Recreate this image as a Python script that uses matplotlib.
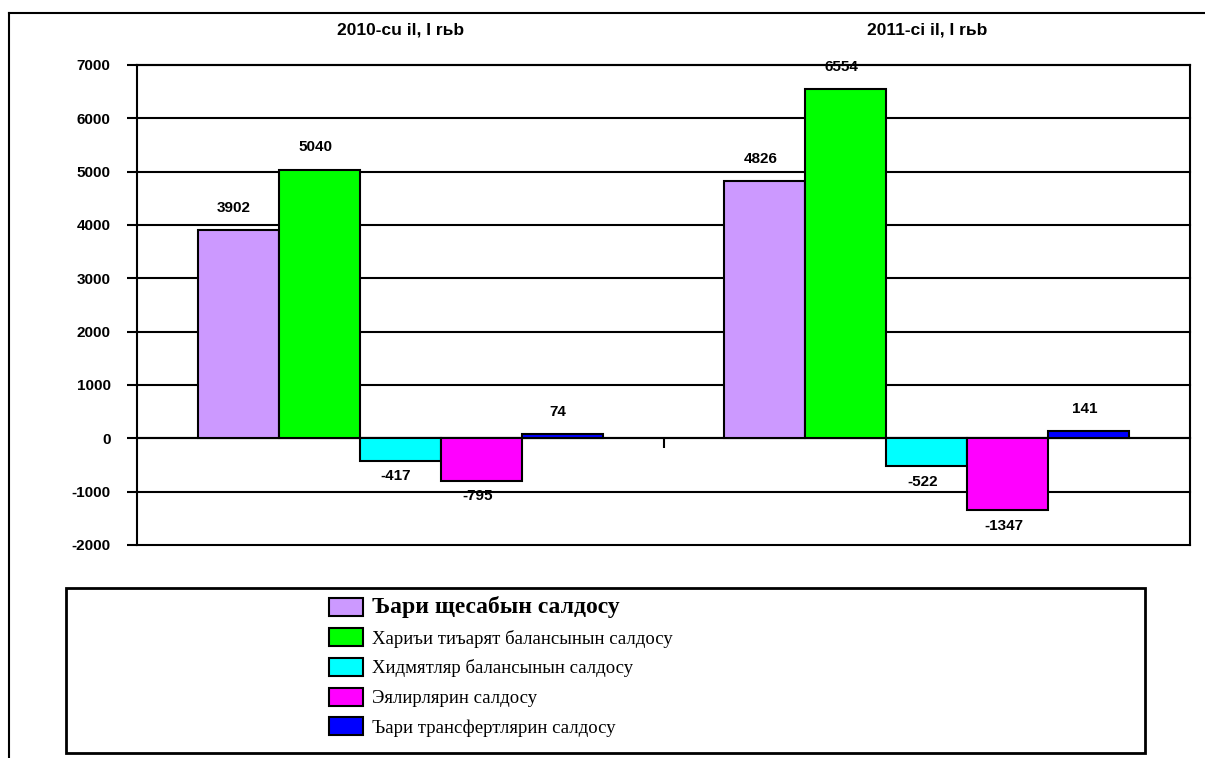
import matplotlib
matplotlib.use("Agg")
import matplotlib.pyplot as plt
import numpy as np
from matplotlib.patches import Rectangle
from matplotlib.lines import Line2D

categories = ["2010-cu il, I rьb", "2011-ci il, I rьb"]
series_names = [
    "Ъари щесабын салдосу",
    "Хариъи тиъарят балансынын салдосу",
    "Хидмятляр балансынын салдосу",
    "Эялирлярин салдосу",
    "Ъари трансфертлярин салдосу",
]
cari = [3902, 4826]
ticaret = [5040, 6554]
xidmet = [-417, -522]
gelir = [-795, -1347]
transfer = [74, 141]
values = [cari, ticaret, xidmet, gelir, transfer]
colors = ["#CC99FF", "#00FF00", "#00FFFF", "#FF00FF", "#0000FF"]
yticks = [-2000, -1000, 0, 1000, 2000, 3000, 4000, 5000, 6000, 7000]

fig = plt.figure(figsize=(12.05, 7.58), dpi=100)
ax = fig.add_axes([137/1205, 1-545/758, (1190-137)/1205, (545-65)/758])

ax.spines["bottom"].set_position(("data", 0))
ax.spines["bottom"].set_linewidth(1.5)
for s in ["left", "right", "top"]:
    ax.spines[s].set_linewidth(1.5)

x = np.arange(len(categories))
bw = 0.154
handles = []
for i, (vals, col) in enumerate(zip(values, colors)):
    pos = x + (i - 2) * bw
    b = ax.bar(pos, vals, width=bw, color=col, edgecolor="black", linewidth=1.5, zorder=3)
    handles.append(b)
    for p, v in zip(pos, vals):
        if v >= 0:
            ax.annotate(f"{v}", (p, v), xytext=(-3, 11), textcoords="offset points",
                        ha="center", va="bottom", fontsize=11, fontweight="bold",
                        family="Liberation Sans", annotation_clip=False)
        else:
            ax.annotate(f"{v}", (p, v), xytext=(-3, -6), textcoords="offset points",
                        ha="center", va="top", fontsize=11, fontweight="bold",
                        family="Liberation Sans")

ax.set_xlim(-0.5, 1.5)
ax.set_ylim(-2000, 7000)
ax.set_yticks(yticks)
ax.set_yticklabels([str(t) for t in yticks], fontsize=11, fontweight="bold", family="Liberation Sans")
ax.yaxis.grid(True, color="black", linewidth=1.5, zorder=0)
for gl in ax.get_ygridlines():
    gl.set_clip_on(False)
ax.set_axisbelow(True)

ax.set_xticks(x)
ax.set_xticks([0.5], minor=True)
ax.tick_params(axis="x", which="major", bottom=False, top=False, labelbottom=False,
               labeltop=True, pad=16)
ax.set_xticklabels(categories, fontsize=12.5, fontweight="bold", family="Liberation Sans")
ax.tick_params(axis="x", which="minor", bottom=True, top=False, length=7, width=1.5,
               direction="out")
ax.tick_params(axis="y", which="major", length=7, width=1.5, pad=12)

# outer border
fig.add_artist(Line2D([9/1205, 9/1205], [0, 1-13/758], transform=fig.transFigure,
                      color="black", linewidth=1.5))
fig.add_artist(Line2D([9/1205, 1], [1-13/758, 1-13/758], transform=fig.transFigure,
                      color="black", linewidth=1.5))

# legend box
fig.add_artist(Rectangle((66/1205, 1-753/758), (1145-66)/1205, (753-588)/758,
                         transform=fig.transFigure, fill=False, edgecolor="black",
                         linewidth=2))

leg = fig.legend(handles, series_names, loc="upper left",
                 bbox_to_anchor=(329/1205, 1-596/758), frameon=False,
                 prop={"family": "Liberation Serif", "size": 13.5},
                 handlelength=1.8, handleheight=1.1, handletextpad=0.5,
                 labelspacing=0.55, borderpad=0, borderaxespad=0)
t0 = leg.get_texts()[0]
t0.set_fontsize(17)
t0.set_fontweight("bold")

fig.savefig("out.png", dpi=100)
